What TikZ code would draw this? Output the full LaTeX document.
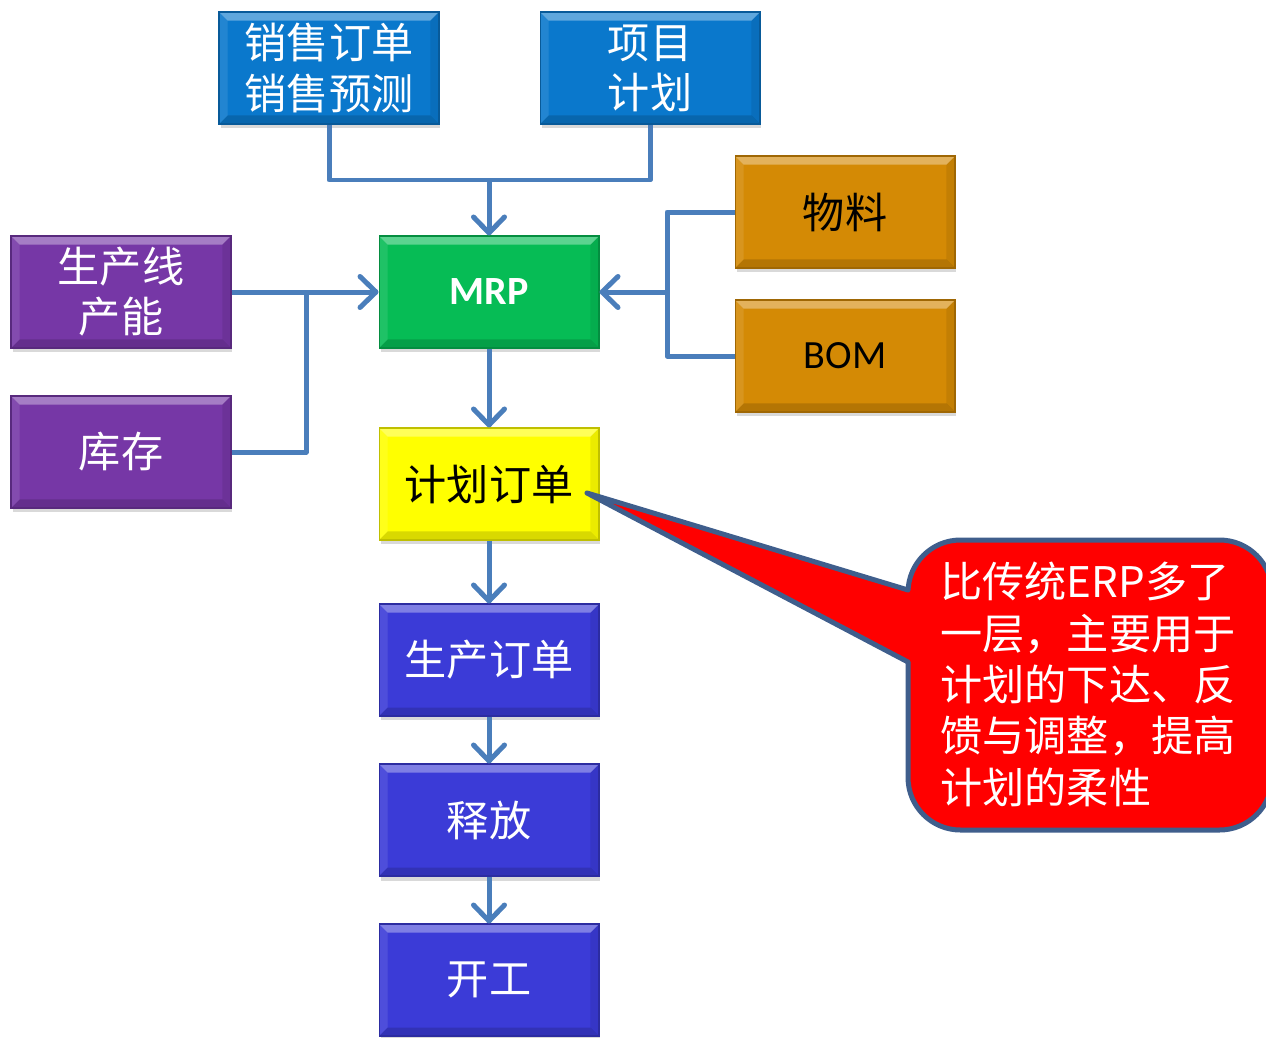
\documentclass[tikz,border=0pt]{standalone}
\usepackage{fontspec}
\newfontfamily\cjk{Noto Sans CJK SC}
\newfontfamily\lat{Carlito}
\usetikzlibrary{arrows.meta,shadows}
\definecolor{cTop}{HTML}{0A78CC}
\definecolor{cGreen}{HTML}{06BC55}
\definecolor{cPurple}{HTML}{7637A6}
\definecolor{cOrange}{HTML}{D48A05}
\definecolor{cYellow}{HTML}{FFFF00}
\definecolor{cLow}{HTML}{3B3BD7}
\definecolor{cLine}{HTML}{4A7EBB}
\definecolor{cBorder}{HTML}{3F5E8C}
\tikzset{
  bevel/.style={path picture={
    \fill[white,opacity=0.35] (path picture bounding box.north west) -- (path picture bounding box.north east) -- ([shift={(-0.17cm,-0.17cm)}]path picture bounding box.north east) -- ([shift={(0.17cm,-0.17cm)}]path picture bounding box.north west) -- cycle;
    \fill[black,opacity=0.15] (path picture bounding box.south west) -- (path picture bounding box.south east) -- ([shift={(-0.17cm,0.17cm)}]path picture bounding box.south east) -- ([shift={(0.17cm,0.17cm)}]path picture bounding box.south west) -- cycle;
    \fill[white,opacity=0.1] (path picture bounding box.south west) -- (path picture bounding box.north west) -- ([shift={(0.17cm,-0.17cm)}]path picture bounding box.north west) -- ([shift={(0.17cm,0.17cm)}]path picture bounding box.south west) -- cycle;
    \fill[black,opacity=0.08] (path picture bounding box.south east) -- (path picture bounding box.north east) -- ([shift={(-0.17cm,-0.17cm)}]path picture bounding box.north east) -- ([shift={(-0.17cm,0.17cm)}]path picture bounding box.south east) -- cycle;
  }},
  box/.style={minimum width=4.4cm, minimum height=2.24cm, inner sep=0pt,
    fill=#1, draw=#1!75!black, line width=0.6pt, bevel,
    drop shadow={shadow xshift=0.03cm, shadow yshift=-0.09cm, opacity=0.25, fill=black!60},
    align=center, text=white, font=\cjk\fontsize{24}{28.5}\selectfont},
  conn/.style={draw=cLine, line width=0.1cm, line join=round},
  arr/.style={conn, -{Straight Barb[length=0.32cm, width=0.62cm, round]}},
}
\begin{document}
\begin{tikzpicture}[x=0.02cm, y=-0.02cm]
\useasboundingbox (0,0) rectangle (1266,1037);

% boxes
\node[box=cTop] (sales) at (329,68) {销售订单\\销售预测};
\node[box=cTop] (proj) at (650,68) {项目\\计划};
\node[box=cGreen, font=\lat\bfseries\fontsize{22.8}{26}\selectfont] (mrp) at (489,292) {MRP};
\node[box=cPurple] (line) at (121,292) {生产线\\产能};
\node[box=cPurple] (stock) at (121,452) {库存};
\node[box=cOrange, text=black] (mat) at (845,212) {物料};
\node[box=cOrange, text=black, font=\lat\fontsize{22.8}{26}\selectfont] (bom) at (845,356) {BOM};
\node[box=cYellow, text=black] (plan) at (489,484) {计划订单};
\node[box=cLow] (prod) at (489,660) {生产订单};
\node[box=cLow] (rel) at (489,820) {释放};
\node[box=cLow] (start) at (489,980) {开工};

% callout
\fill[red, draw=cBorder, line width=0.1cm, rounded corners=1.05cm] (908,540) rectangle (1272,830);
\fill[red] (587,493) -- (908,590) -- (912,590) -- (912,662) -- (908,662) -- cycle;
\draw[cBorder, line width=0.1cm, line cap=round, line join=round] (908,590) -- (587,493) -- (908,662);
\node[anchor=north west, align=left, inner sep=0pt, text=white, font=\cjk\fontsize{24}{29.2}\selectfont] (note) at (940,562)
  {比传统ERP多了\\一层，主要用于\\计划的下达、反\\馈与调整，提高\\计划的柔性};

% junctions
\coordinate (j1) at (489,180);
\coordinate (j2) at (306,292);
\coordinate (j3) at (667,292);

% connectors
\draw[conn] (sales.south) |- (j1) -| (proj.south);
\draw[arr] (j1) -- (mrp.north);
\draw[arr] (line.east) -- (mrp.west);
\draw[conn] (stock.east) -| (j2);
\draw[conn] (mat.west) -| (j3) |- (bom.west);
\draw[arr] (j3) -- (mrp.east);
\draw[arr] (mrp.south) -- (plan.north);
\draw[arr] (plan.south) -- (prod.north);
\draw[arr] (prod.south) -- (rel.north);
\draw[arr] (rel.south) -- (start.north);
\end{tikzpicture}
\end{document}
